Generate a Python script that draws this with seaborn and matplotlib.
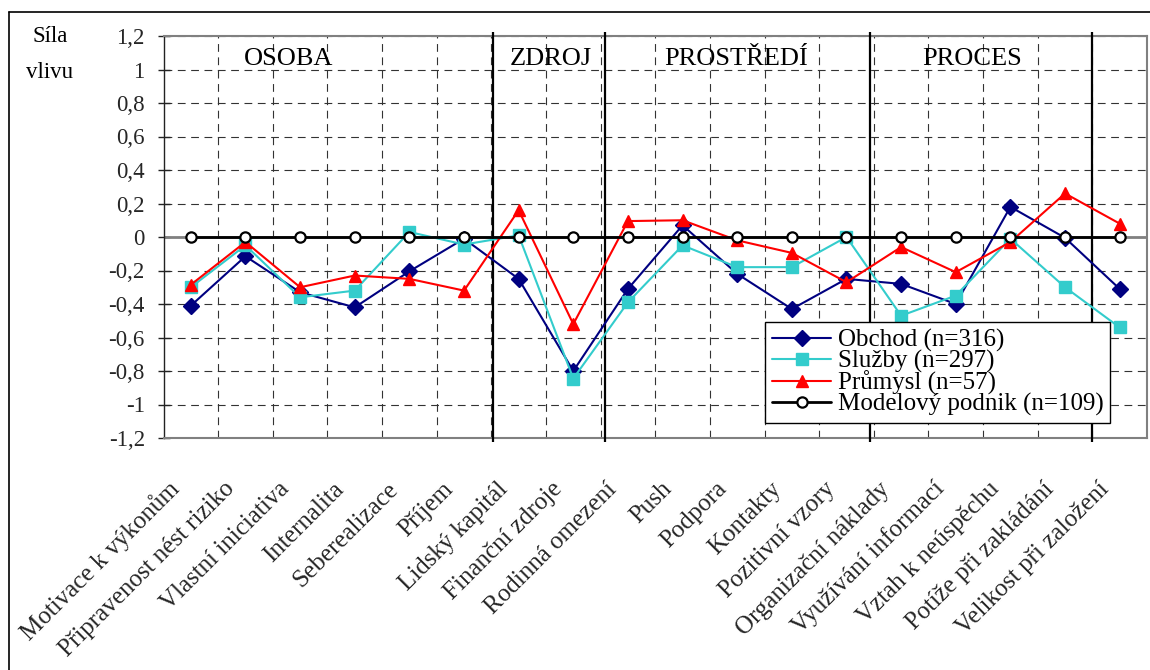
import matplotlib
matplotlib.use("Agg")
import matplotlib.pyplot as plt
import matplotlib.transforms as mtransforms
from matplotlib.lines import Line2D
from matplotlib.ticker import FixedLocator
import numpy as np
import pandas as pd
import seaborn as sns

# --- data -------------------------------------------------------------------
categories = [
    "Motivace k výkonům", "Připravenost nést riziko", "Vlastní iniciativa",
    "Internalita", "Seberealizace", "Příjem", "Lidský kapitál",
    "Finanční zdroje", "Rodinná omezení", "Push", "Podpora", "Kontakty",
    "Pozitivní vzory", "Organizační náklady", "Využívání informací",
    "Vztah k neúspěchu", "Potíže při zakládání", "Velikost při založení",
]

obchod = [-0.41, -0.115, -0.33, -0.42, -0.205, -0.01, -0.25, -0.80, -0.31,
          0.07, -0.22, -0.43, -0.25, -0.28, -0.40, 0.18, -0.005, -0.31]
sluzby = [-0.30, -0.05, -0.36, -0.32, 0.03, -0.045, 0.01, -0.845, -0.39,
          -0.05, -0.18, -0.18, 0.0, -0.47, -0.35, -0.01, -0.30, -0.54]
prumysl = [-0.285, -0.03, -0.30, -0.23, -0.25, -0.32, 0.16, -0.52, 0.095,
           0.10, -0.02, -0.095, -0.27, -0.06, -0.21, -0.03, 0.26, 0.08]
model = [0.0] * 18

series_names = ["Obchod (n=316)", "Služby (n=297)", "Průmysl (n=57)",
                "Modelový podnik (n=109)"]
series_values = [obchod, sluzby, prumysl, model]

sections = ["OSOBA", "ZDROJ", "PROSTŘEDÍ", "PROCES"]
section_pos = [1.79, 6.59, 9.98, 14.3]
y_ticks = [-1.2, -1.0, -0.8, -0.6, -0.4, -0.2, 0.0, 0.2, 0.4, 0.6, 0.8, 1.0, 1.2]

# --- styling ------------------------------------------------------------------
styles = {
    "Obchod (n=316)": dict(color="#000080", marker="D", markersize=8.4,
                           markerfacecolor="#000080", markeredgecolor="#000080"),
    "Služby (n=297)": dict(color="#33CCCC", marker="s", markersize=8.8,
                           markerfacecolor="#33CCCC", markeredgecolor="#33CCCC"),
    "Průmysl (n=57)": dict(color="#FF0000", marker="^", markersize=8.4,
                           markerfacecolor="#FF0000", markeredgecolor="#FF0000"),
    "Modelový podnik (n=109)": dict(color="black", marker="o", markersize=7.4,
                                    markerfacecolor="white",
                                    markeredgecolor="black",
                                    markeredgewidth=1.6),
}
line_widths = {"Obchod (n=316)": 1.5, "Služby (n=297)": 1.5,
               "Průmysl (n=57)": 1.5, "Modelový podnik (n=109)": 2.0}

sns.set_theme(style="white")
plt.rcParams["font.family"] = ["Liberation Serif", "DejaVu Serif"]
plt.rcParams["text.color"] = "black"

W, H = 1150, 670
fig = plt.figure(figsize=(W / 100, H / 100), dpi=100)
left, right, top, bottom = 163.5, 1147, 36, 438
ax = fig.add_axes([left / W, 1 - bottom / H, (right - left) / W, (bottom - top) / H])

df = pd.DataFrame({
    "kategorie": categories * len(series_names),
    "hodnota": [v for vals in series_values for v in vals],
    "skupina": [n for n in series_names for _ in categories],
})

for z, name in enumerate(series_names):
    sub = df[df["skupina"] == name]
    kw = dict(styles[name])
    kw.setdefault("markeredgewidth", 1.0)
    sns.lineplot(data=sub, x="kategorie", y="hodnota", ax=ax, sort=False,
                 linewidth=line_widths[name], label=name, zorder=4 + z,
                 clip_on=False, **kw)

# axes limits, ticks
ax.set_xlim(-0.5, len(categories) - 0.5)
ax.set_ylim(-1.2, 1.2)
ax.set_xlabel("")
ax.set_ylabel("")

ax.set_yticks(y_ticks)
ax.set_yticklabels([("%g" % round(t, 1)).replace(".", ",")
                    if abs(t) > 1e-9 else "0" for t in y_ticks], fontsize=16.5)
ax.tick_params(axis="y", direction="inout", length=9, width=1, color="#222222",
               pad=9, left=True)

ax.set_xticks(range(len(categories)))
ax.set_xticklabels(categories, rotation=45, ha="right", va="baseline",
                   rotation_mode="anchor", fontsize=18)
ax.tick_params(axis="x", length=0, pad=0)

# dashed grid: horizontal at every 0.2, vertical at category boundaries
ax.xaxis.set_minor_locator(FixedLocator(np.arange(0.5, len(categories) - 1, 1.0)))
ax.tick_params(axis="x", which="minor", length=0)
grid_kw = dict(color="#333333", linewidth=0.8, linestyle=(0, (7, 5)))
ax.grid(False)
ax.grid(True, axis="y", which="major", **grid_kw)
ax.grid(True, axis="x", which="minor", **grid_kw)
ax.set_axisbelow(True)

# category axis crossing at zero
ax.axhline(0, color="#808080", linewidth=2.0, zorder=2)

# section separators
ax.vlines([5.53, 7.58, 12.43, 16.49], -1.225, 1.225, color="black",
          linewidth=1.6, zorder=3, clip_on=False)

for label, xpos in zip(sections, section_pos):
    ax.text(xpos, 1.025, label, ha="center", va="baseline", fontsize=19,
            zorder=6)

# spines
for side in ["top", "right", "bottom"]:
    ax.spines[side].set_color("#808080")
    ax.spines[side].set_linewidth(1.5)
ax.spines["left"].set_color("#222222")
ax.spines["left"].set_linewidth(1.0)

# legend
handles, labels = ax.get_legend_handles_labels()
leg = ax.legend(handles, labels, loc="upper left",
                bbox_to_anchor=((765 - left) / (right - left),
                                (bottom - 321.7) / (bottom - top)),
                borderaxespad=0, fontsize=18, frameon=True, fancybox=False,
                framealpha=1, edgecolor="black", labelspacing=-0.08,
                handlelength=2.36, handletextpad=0.26, borderpad=0.28)
leg.get_frame().set_linewidth(1.0)
leg.set_zorder(20)

# y axis caption
fig.text(50 / W, 1 - 37 / H, "Síla", ha="center", va="center", fontsize=16.5)
fig.text(50 / W, 1 - 73 / H, "vlivu", ha="center", va="center", fontsize=16.5)

# outer frame (left and top edges)
fig.add_artist(Line2D([9 / W, 9 / W], [0, 1 - 12 / H], transform=fig.transFigure,
                      color="black", linewidth=1.2))
fig.add_artist(Line2D([9 / W, 1], [1 - 12 / H, 1 - 12 / H], transform=fig.transFigure,
                      color="black", linewidth=1.2))

# shift the slanted category labels below the axis
offset = mtransforms.ScaledTranslation(-0.10, -0.52, fig.dpi_scale_trans)
for lbl in ax.get_xticklabels():
    lbl.set_transform(lbl.get_transform() + offset)

fig.savefig("out.png", dpi=100)
